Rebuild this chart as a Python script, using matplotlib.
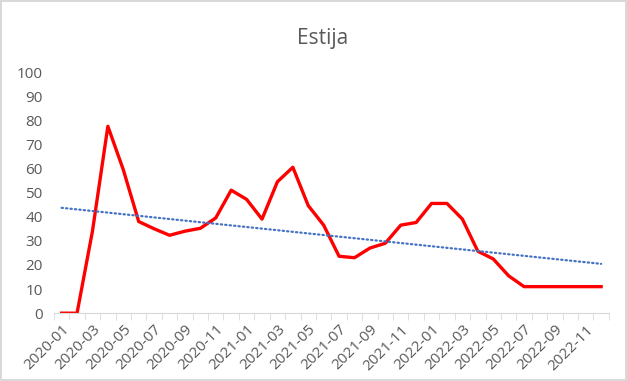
import numpy as np
import matplotlib.pyplot as plt

months = ['2020-01', '2020-02', '2020-03', '2020-04', '2020-05', '2020-06',
          '2020-07', '2020-08', '2020-09', '2020-10', '2020-11', '2020-12',
          '2021-01', '2021-02', '2021-03', '2021-04', '2021-05', '2021-06',
          '2021-07', '2021-08', '2021-09', '2021-10', '2021-11', '2021-12',
          '2022-01', '2022-02', '2022-03', '2022-04', '2022-05', '2022-06',
          '2022-07', '2022-08', '2022-09', '2022-10', '2022-11', '2022-12']
values = [0, 0, 34, 77.5, 59.5, 38, 35, 32.3, 34, 35.2, 39.5, 51,
          47.2, 39, 54.5, 60.5, 44.6, 36.5, 23.6, 23, 27, 29, 36.5, 37.6,
          45.5, 45.5, 39, 25.7, 22.5, 15.5, 11, 11, 11, 11, 11, 11]

grey = '#595959'
plt.rcParams['font.family'] = ['Open Sans', 'DejaVu Sans']

fig = plt.figure(figsize=(6.27, 3.81), dpi=100)
fig.patch.set_edgecolor('#d9d9d9')
fig.patch.set_linewidth(1.5)
ax = fig.add_axes([0.086, 0.178, 0.885, 0.633])

x = np.arange(len(months))
ax.plot(x, values, color='#ff0000', lw=2.4, solid_joinstyle='round')

# linear trend line
k, b = np.polyfit(x, values, 1)
ax.plot(x, k * x + b, color='#4472c4', lw=1.6, ls=(0, (0.6, 1.4)),
        dash_capstyle='round')

ax.set_xlim(-0.5, len(months) - 0.5)
ax.set_ylim(0, 100)
ax.set_yticks(range(0, 101, 10))
ax.set_xticks(x[::2])
ax.set_xticklabels(months[::2], rotation=45, ha='right',
                   rotation_mode='anchor')
ax.set_xticks(np.arange(-0.5, len(months), 1), minor=True)
ax.tick_params(axis='x', which='major', length=0, pad=6.5, labelsize=11,
               labelcolor=grey)
ax.tick_params(axis='x', which='minor', length=5, color='#d9d9d9')
ax.tick_params(axis='y', length=0, labelsize=11, labelcolor=grey, pad=8)

for s in ['top', 'right', 'left']:
    ax.spines[s].set_visible(False)
ax.spines['bottom'].set_color('#d9d9d9')

fig.text(0.515, 0.9, 'Estija', ha='center', va='center', fontsize=15,
         color=grey)

fig.savefig('out.png', dpi=100)
